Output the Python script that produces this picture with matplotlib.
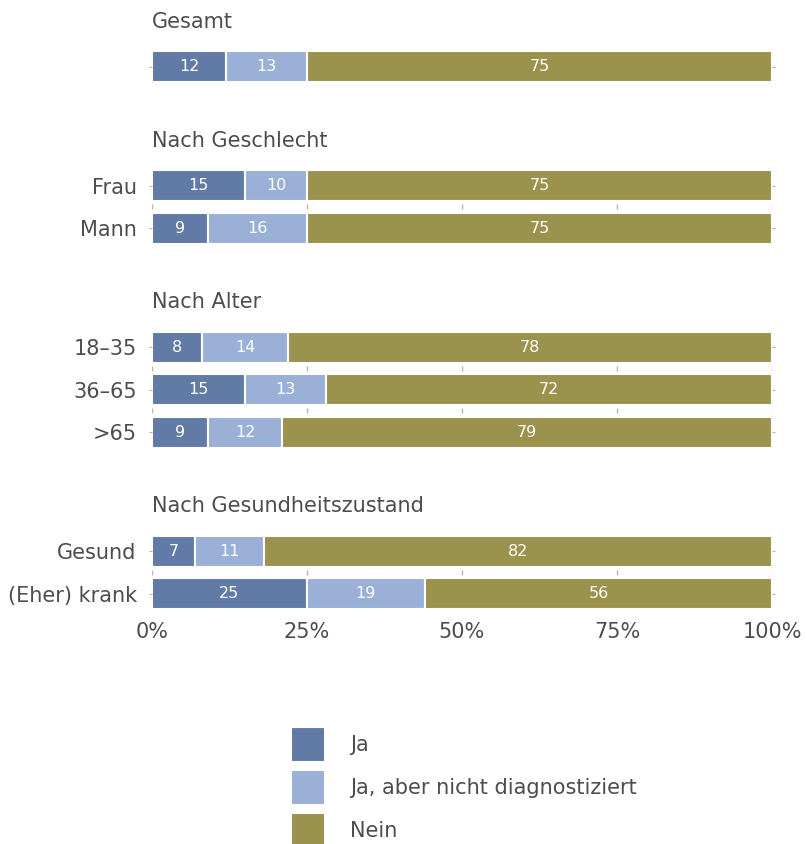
import matplotlib.pyplot as plt
import numpy as np

plt.rcParams['font.family'] = ['DejaVu Sans']

groups = ['Gesamt', 'Nach Geschlecht', 'Nach Alter', 'Nach Gesundheitszustand']
rows = [[''], ['Frau', 'Mann'], ['18–35', '36–65', '>65'], ['Gesund', '(Eher) krank']]
ja = [[12], [15, 9], [8, 15, 9], [7, 25]]
ja_nicht = [[13], [10, 16], [14, 13, 12], [11, 19]]
nein = [[75], [75, 75], [78, 72, 79], [82, 56]]
series_names = ['Ja', 'Ja, aber nicht diagnostiziert', 'Nein']
colors = ['#627aa6', '#9bb0d6', '#9b924e']
text_col = '#4d4d4d'

fig = plt.figure(figsize=(8.07, 8.44), dpi=100)
ax = fig.add_axes([152 / 807, 1 - 612 / 844, 620 / 807, 602 / 844])

# layout in row units (top = 0)
head_gap, group_gap = 1.05, 1.75
y = 0.0
header_y, bar_y, labels, vals = [], [], [], []
for g, names, a, b, c in zip(groups, rows, ja, ja_nicht, nein):
    header_y.append(y)
    y += head_gap
    ys = []
    for n, va, vb, vc in zip(names, a, b, c):
        ys.append(y)
        bar_y.append(y)
        labels.append(n)
        vals.append((va, vb, vc))
        y += 1
    # small grey ticks between adjacent bars of a group
    for y1, y2 in zip(ys[:-1], ys[1:]):
        m = (y1 + y2) / 2
        ax.vlines([0, 25, 50, 75, 100], m - 0.06, m + 0.06, color='#b5b5b5', lw=1)
    y += group_gap - 1

vals = np.array(vals)
bar_y = np.array(bar_y)
left = np.zeros(len(bar_y))
for i in range(3):
    ax.barh(bar_y, vals[:, i], left=left, height=0.73, color=colors[i],
            edgecolor='white', linewidth=1.5, label=series_names[i])
    for yy, l, v in zip(bar_y, left, vals[:, i]):
        ax.text(l + v / 2, yy, str(v), ha='center', va='center', color='white', fontsize=11.5)
    left += vals[:, i]

for g, hy in zip(groups, header_y):
    ax.text(0, hy, g, ha='left', va='center', fontsize=15, color=text_col)

ax.set_xlim(0, 100)
ax.set_ylim((612 - 22) / 42.5, (10 - 22) / 42.5)
ax.set_yticks(bar_y)
ax.set_yticklabels(labels, fontsize=15, color=text_col)
ax.tick_params(axis='y', length=2, color='#b5b5b5', pad=9, right=True)
ax.set_xticks([0, 25, 50, 75, 100])
ax.set_xticklabels(['0%', '25%', '50%', '75%', '100%'], fontsize=15, color=text_col)
ax.tick_params(axis='x', length=0, pad=7)
for s in ax.spines.values():
    s.set_visible(False)

fig.legend(loc='upper left', bbox_to_anchor=(291 / 807, 1 - 727 / 844), frameon=False,
           fontsize=15, handlelength=1.65, handleheight=2.2, labelspacing=0.38,
           handletextpad=1.2, borderpad=0, borderaxespad=0, labelcolor=text_col)

plt.savefig('out.png', dpi=100)
